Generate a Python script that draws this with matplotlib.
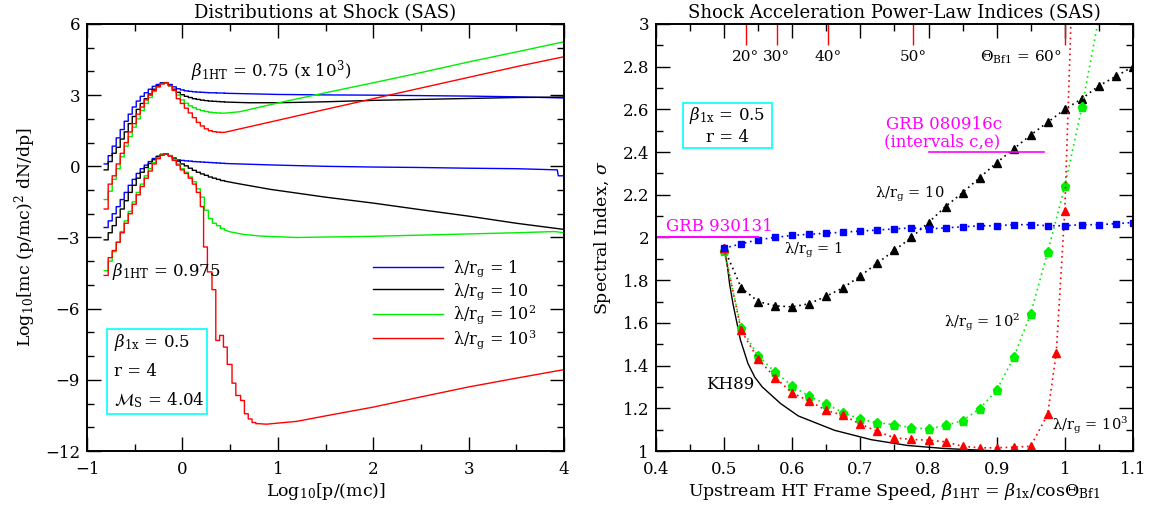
import numpy as np
import matplotlib
matplotlib.use('Agg')
import matplotlib.pyplot as plt
from matplotlib.ticker import MultipleLocator, FuncFormatter
from matplotlib.patches import Rectangle

plt.rcParams['font.family'] = ['DejaVu Serif']
plt.rcParams['mathtext.fontset'] = 'dejavuserif'
plt.rcParams['axes.unicode_minus'] = True

#--------------------------------------------------------------
# left panel : distributions, log10 p/(mc) bin edges (stepped part)
lgp_head = [-0.82, -0.778, -0.736, -0.694, -0.652, -0.61, -0.568, -0.526, -0.484, -0.442,
            -0.40, -0.358, -0.316, -0.274, -0.232, -0.19, -0.148, -0.106, -0.064, -0.022,
            0.02, 0.062, 0.104, 0.146, 0.188, 0.23, 0.272, 0.314, 0.356, 0.398]

# beta_1HT = 0.75 (x 10^3)
up_blue = [0.1, 0.45, 0.85, 1.2, 1.55, 1.9, 2.2, 2.5, 2.75, 2.95,
           3.1, 3.25, 3.37, 3.45, 3.52, 3.53, 3.45, 3.35, 3.27, 3.22,
           3.18, 3.16, 3.14, 3.13, 3.12, 3.11, 3.10, 3.10, 3.09, 3.09]
up_black = [-0.15, 0.2, 0.55, 0.8, 1.15, 1.45, 1.8, 2.1, 2.4, 2.65,
            2.85, 3.05, 3.25, 3.4, 3.5, 3.52, 3.4, 3.25, 3.12, 3.02,
            2.95, 2.9, 2.85, 2.82, 2.79, 2.77, 2.75, 2.74, 2.73, 2.72]
up_green = [-1.4, -1.05, -0.55, -0.1, 0.4, 0.85, 1.25, 1.65, 2.0, 2.35,
            2.65, 2.9, 3.15, 3.35, 3.48, 3.52, 3.4, 3.2, 3.0, 2.8,
            2.66, 2.55, 2.47, 2.4, 2.35, 2.31, 2.28, 2.26, 2.25, 2.24]
up_red = [-1.8, -0.75, -0.4, 0.1, 0.55, 1.0, 1.45, 1.8, 2.2, 2.5,
          2.8, 3.0, 3.2, 3.35, 3.47, 3.52, 3.4, 3.2, 2.85, 2.65,
          2.45, 2.25, 2.05, 1.85, 1.7, 1.58, 1.5, 1.46, 1.44, 1.43]

# beta_1HT = 0.975
lo_blue = [-2.58, -2.3, -2.0, -1.7, -1.4, -1.1, -0.8, -0.55, -0.3, -0.1,
           0.05, 0.2, 0.33, 0.43, 0.5, 0.53, 0.45, 0.32, 0.27, 0.25,
           0.23, 0.22, 0.2, 0.19, 0.18, 0.17, 0.16, 0.15, 0.14, 0.13]
lo_black = [-3.1, -2.8, -2.5, -2.15, -1.8, -1.45, -1.1, -0.8, -0.5, -0.25,
            -0.05, 0.12, 0.28, 0.4, 0.5, 0.53, 0.45, 0.35, 0.22, 0.1,
            0.02, -0.08, -0.17, -0.25, -0.32, -0.38, -0.45, -0.5, -0.55, -0.6]
lo_green = [-4.4, -4.0, -3.6, -3.2, -2.75, -2.3, -1.9, -1.5, -1.1, -0.75,
            -0.4, -0.1, 0.15, 0.35, 0.48, 0.53, 0.45, 0.3, 0.1, -0.1,
            -0.25, -0.45, -0.65, -0.95, -1.3, -1.85, -2.2, -2.4, -2.5, -2.62]
lgp_red_lo = [-0.82, -0.778, -0.736, -0.694, -0.652, -0.61, -0.568, -0.526, -0.484, -0.442,
              -0.40, -0.358, -0.316, -0.274, -0.232, -0.19, -0.148, -0.106, -0.064, -0.022,
              0.02, 0.062, 0.104, 0.146, 0.188, 0.222, 0.262, 0.31, 0.35, 0.39,
              0.43, 0.47, 0.52, 0.56, 0.61, 0.65, 0.69, 0.73, 0.77]
lo_red = [-4.6, -3.85, -3.55, -3.2, -2.8, -2.4, -2.0, -1.6, -1.2, -0.85,
          -0.5, -0.2, 0.1, 0.32, 0.47, 0.53, 0.43, 0.25, 0.05, -0.15,
          -0.3, -0.5, -0.75, -1.1, -1.7, -3.4, -4.45, -5.2, -7.34, -7.13,
          -7.62, -8.35, -9.14, -9.66, -9.87, -10.43, -10.65, -10.8, -10.85]

# smooth high-energy tails
tail_up_blue_x = [0.44, 1.0, 1.5, 2.0, 2.5, 3.0, 3.5, 4.0]
tail_up_blue_y = [3.08, 3.03, 3.01, 3.0, 2.98, 2.96, 2.93, 2.88]
tail_up_black_x = [0.44, 0.7, 1.0, 1.5, 2.0, 2.5, 3.0, 3.5, 4.0]
tail_up_black_y = [2.71, 2.68, 2.68, 2.72, 2.78, 2.82, 2.86, 2.9, 2.92]
tail_up_green_x = [0.44, 0.6, 1.0, 1.5, 2.0, 2.5, 3.0, 3.5, 4.0]
tail_up_green_y = [2.24, 2.3, 2.67, 3.1, 3.52, 3.95, 4.4, 4.82, 5.25]
tail_up_red_x = [0.44, 1.0, 1.5, 2.0, 2.5, 3.0, 3.5, 4.0]
tail_up_red_y = [1.43, 1.94, 2.4, 2.85, 3.3, 3.75, 4.2, 4.62]
tail_lo_blue_x = [0.44, 1.0, 1.5, 2.0, 2.5, 3.0, 3.5, 3.93, 3.94, 4.0]
tail_lo_blue_y = [0.12, 0.05, 0.0, -0.03, -0.05, -0.08, -0.1, -0.15, -0.4, -0.4]
tail_lo_black_x = [0.44, 0.57, 0.92, 1.5, 2.0, 2.5, 3.0, 3.5, 4.0]
tail_lo_black_y = [-0.62, -0.72, -0.97, -1.3, -1.55, -1.83, -2.1, -2.4, -2.66]
tail_lo_green_x = [0.44, 0.5, 0.64, 0.82, 1.2, 1.5, 2.0, 2.5, 3.0, 3.5, 3.9, 4.0]
tail_lo_green_y = [-2.68, -2.76, -2.87, -2.94, -3.0, -2.98, -2.95, -2.9, -2.85, -2.8, -2.75, -2.8]
tail_lo_red_x = [0.81, 0.88, 1.2, 1.5, 2.0, 2.5, 3.0, 3.5, 4.0]
tail_lo_red_y = [-10.85, -10.87, -10.75, -10.52, -10.15, -9.72, -9.3, -8.93, -8.57]

#--------------------------------------------------------------
# right panel : spectral index vs beta_1HT
beta_1HT = [0.5, 0.525, 0.55, 0.575, 0.6, 0.625, 0.65, 0.675, 0.7, 0.725, 0.75, 0.775, 0.8,
            0.825, 0.85, 0.875, 0.9, 0.925, 0.95, 0.975, 1.0, 1.025, 1.05, 1.075, 1.1]
sig_lam1 = [1.95, 1.97, 1.99, 2.0, 2.01, 2.015, 2.02, 2.025, 2.03, 2.035, 2.04, 2.045, 2.04,
            2.045, 2.05, 2.055, 2.055, 2.06, 2.06, 2.055, 2.055, 2.06, 2.06, 2.065, 2.07]
sig_lam10 = [1.95, 1.765, 1.70, 1.68, 1.675, 1.69, 1.725, 1.765, 1.82, 1.88, 1.94, 2.0, 2.07,
             2.145, 2.21, 2.28, 2.35, 2.415, 2.48, 2.54, 2.6, 2.65, 2.71, 2.755, 2.8]
beta_lam100 = [0.5, 0.525, 0.55, 0.575, 0.6, 0.625, 0.65, 0.675, 0.7, 0.725, 0.75, 0.775, 0.8,
               0.825, 0.85, 0.875, 0.9, 0.925, 0.95, 0.975, 1.0, 1.025, 1.05]
sig_lam100 = [1.935, 1.576, 1.445, 1.37, 1.304, 1.256, 1.219, 1.18, 1.148, 1.133, 1.123, 1.109, 1.103,
              1.12, 1.142, 1.198, 1.284, 1.438, 1.644, 1.933, 2.24, 2.61, 3.03]
beta_lam1000 = [0.5, 0.525, 0.55, 0.575, 0.6, 0.625, 0.65, 0.675, 0.7, 0.725, 0.75, 0.775, 0.8,
                0.825, 0.85, 0.875, 0.9, 0.925, 0.95, 0.975, 0.9875, 1.0, 1.0125]
sig_lam1000 = [1.95, 1.565, 1.43, 1.344, 1.272, 1.234, 1.19, 1.167, 1.126, 1.092, 1.062, 1.054, 1.051,
               1.043, 1.022, 1.015, 1.015, 1.018, 1.022, 1.173, 1.461, 2.125, 3.35]
kh89_beta = [0.5, 0.505, 0.508, 0.513, 0.524, 0.535, 0.545, 0.556, 0.583, 0.609, 0.662, 0.716,
             0.769, 0.822, 0.875, 0.902]
kh89_sig = [1.956, 1.862, 1.784, 1.69, 1.52, 1.41, 1.346, 1.3, 1.222, 1.164, 1.097, 1.053,
            1.026, 1.012, 1.004, 1.0]
theta_deg = [20, 30, 40, 50, 60]
beta_1x = 0.5

BLUE = '#0000ff'
GREEN = '#00ee00'
RED = '#ff0000'
CYAN = '#00ffff'
MAGENTA = '#ff00ff'


def stair(edges, vals, tx, ty):
    # histogram staircase followed by the smooth tail
    xs, ys = [], []
    ends = list(edges[1:]) + [tx[0]]
    for e0, e1, v in zip(edges, ends, vals):
        xs += [e0, e1]
        ys += [v, v]
    return xs + list(tx), ys + list(ty)


fig = plt.figure(figsize=(11.51, 5.08), dpi=100)
ax1 = fig.add_axes([0.0756, 0.1122, 0.4144, 0.8406])
ax2 = fig.add_axes([0.5699, 0.1122, 0.4144, 0.8406])

for ax in (ax1, ax2):
    ax.tick_params(which='both', direction='in', top=True, right=True, labelsize=12, width=1.0)
    ax.tick_params(which='major', length=10)
    ax.tick_params(which='minor', length=5)
    ax.tick_params(axis='x', which='major', pad=7)
    ax.tick_params(axis='y', which='major', pad=5)
    for s in ax.spines.values():
        s.set_linewidth(1.4)

# ---- left panel
curves = [(up_blue, tail_up_blue_x, tail_up_blue_y, BLUE, 'λ/r$_{\\rm g}$ = 1'),
          (up_black, tail_up_black_x, tail_up_black_y, 'black', 'λ/r$_{\\rm g}$ = 10'),
          (up_green, tail_up_green_x, tail_up_green_y, GREEN, 'λ/r$_{\\rm g}$ = 10$^2$'),
          (up_red, tail_up_red_x, tail_up_red_y, RED, 'λ/r$_{\\rm g}$ = 10$^3$')]
handles = []
for vals, tx, ty, c, lab in curves:
    xs, ys = stair(lgp_head, vals, tx, ty)
    h, = ax1.plot(xs, ys, color=c, lw=1.0, label=lab)
    handles.append(h)

for vals, tx, ty, c in [(lo_blue, tail_lo_blue_x, tail_lo_blue_y, BLUE),
                        (lo_black, tail_lo_black_x, tail_lo_black_y, 'black'),
                        (lo_green, tail_lo_green_x, tail_lo_green_y, GREEN)]:
    xs, ys = stair(lgp_head, vals, tx, ty)
    ax1.plot(xs, ys, color=c, lw=1.0)
xs, ys = stair(lgp_red_lo, lo_red, tail_lo_red_x, tail_lo_red_y)
ax1.plot(xs, ys, color=RED, lw=1.0)

ax1.set_xlim(-1, 4)
ax1.set_ylim(-12, 6)
ax1.xaxis.set_major_locator(MultipleLocator(1))
ax1.xaxis.set_minor_locator(MultipleLocator(0.5))
ax1.yaxis.set_major_locator(MultipleLocator(3))
ax1.yaxis.set_minor_locator(MultipleLocator(1))
ax1.set_title('Distributions at Shock (SAS)', fontsize=13, pad=4)
ax1.set_xlabel(r'Log$_{10}$[p/(mc)]', fontsize=12.5, labelpad=2)
ax1.set_ylabel(r'Log$_{10}$[mc (p/mc)$^2$ dN/dp]', fontsize=12.5, labelpad=5)

ax1.text(0.09, 4.0, r'$\beta_{\rm 1HT}$ = 0.75 (x 10$^3$)', fontsize=12, va='center')
ax1.text(-0.74, -4.45, r'$\beta_{\rm 1HT}$ = 0.975', fontsize=12, va='center')
ax1.add_patch(Rectangle((-0.795, -10.46), 1.055, 3.6, fill=False, edgecolor=CYAN, lw=1.2))
ax1.text(-0.72, -7.41, r'$\beta_{\rm 1x}$ = 0.5', fontsize=12, va='center')
ax1.text(-0.72, -8.65, 'r = 4', fontsize=12, va='center')
ax1.text(-0.72, -9.84, r'$\mathcal{M}_{\rm S}$ = 4.04', fontsize=12, va='center')

ax1.legend(handles=handles, loc='upper left', bbox_to_anchor=(0.599, 0.452), frameon=False,
           fontsize=11.5, handlelength=4.4, handletextpad=0.6, labelspacing=0.12,
           borderpad=0, borderaxespad=0)

# ---- right panel
ax2.plot(kh89_beta, kh89_sig, color='black', lw=1.0)
dots = (0, (1, 2.2))
ax2.plot(beta_1HT, sig_lam10, color='black', ls=dots, lw=1.2, marker='^', ms=5.5)
ax2.plot(beta_lam100, sig_lam100, color=GREEN, ls=dots, lw=1.2, marker='p', ms=6.5)
ax2.plot(beta_lam1000, sig_lam1000, color=RED, ls=dots, lw=1.2, marker='^', ms=5.5)
ax2.plot(beta_1HT, sig_lam1, color=BLUE, ls=dots, lw=1.2, marker='s', ms=4.8)

ax2.set_xlim(0.4, 1.1)
ax2.set_ylim(1, 3)
ax2.xaxis.set_major_locator(MultipleLocator(0.1))
ax2.xaxis.set_minor_locator(MultipleLocator(0.05))
ax2.yaxis.set_major_locator(MultipleLocator(0.2))
ax2.yaxis.set_minor_locator(MultipleLocator(0.1))
fmt = FuncFormatter(lambda v, p: '%g' % round(v, 3))
ax2.xaxis.set_major_formatter(fmt)
ax2.yaxis.set_major_formatter(fmt)
ax2.set_title('Shock Acceleration Power-Law Indices (SAS)', fontsize=13, pad=4)
ax2.set_xlabel(r'Upstream HT Frame Speed, $\beta_{\rm 1HT}$ = $\beta_{\rm 1x}$/cos$\Theta_{\rm Bf1}$',
               fontsize=12.5, labelpad=2)
ax2.set_ylabel(r'Spectral Index, $\sigma$', fontsize=12.5, labelpad=7)

# field angle marks along the top
theta_beta = [beta_1x / np.cos(np.radians(t)) for t in theta_deg]
ax2.vlines(theta_beta, 2.9, 3.0, color=RED, lw=1.0)
for t, b in zip(theta_deg[:-1], theta_beta[:-1]):
    ax2.text(b, 2.844, '%d°' % t, fontsize=11, ha='center', va='center')
ax2.text(theta_beta[-1] - 0.005, 2.844, r'$\Theta_{\rm Bf1}$ = %d°' % theta_deg[-1],
         fontsize=11, ha='right', va='center')

ax2.add_patch(Rectangle((0.439, 2.417), 0.131, 0.211, fill=False, edgecolor=CYAN, lw=1.2))
ax2.text(0.505, 2.573, r'$\beta_{\rm 1x}$ = 0.5', fontsize=12, ha='center', va='center')
ax2.text(0.505, 2.47, 'r = 4', fontsize=12, ha='center', va='center')

ax2.plot([0.4, 0.55], [2.0, 2.0], color=MAGENTA, lw=1.5)
ax2.text(0.415, 2.05, 'GRB 930131', color=MAGENTA, fontsize=12, va='center')
ax2.plot([0.8, 0.97], [2.4, 2.4], color=MAGENTA, lw=1.2)
ax2.text(0.822, 2.528, 'GRB 080916c', color=MAGENTA, fontsize=12, ha='center', va='center')
ax2.text(0.82, 2.45, '(intervals c,e)', color=MAGENTA, fontsize=12, ha='center', va='center')

ax2.text(0.588, 1.94, 'λ/r$_{\\rm g}$ = 1', fontsize=10.5, va='center')
ax2.text(0.721, 2.2, 'λ/r$_{\\rm g}$ = 10', fontsize=10.5, va='center')
ax2.text(0.822, 1.604, 'λ/r$_{\\rm g}$ = 10$^2$', fontsize=10.5, va='center')
ax2.text(0.981, 1.12, 'λ/r$_{\\rm g}$ = 10$^3$', fontsize=10.5, va='center')
ax2.text(0.473, 1.312, 'KH89', fontsize=12, va='center')

fig.savefig('out.png', dpi=100)
